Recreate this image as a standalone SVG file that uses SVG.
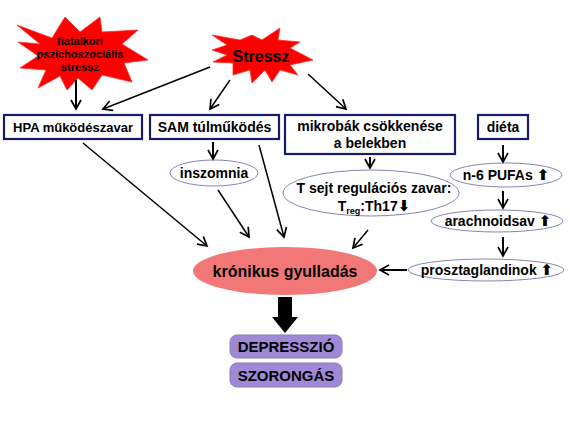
<svg xmlns="http://www.w3.org/2000/svg" width="570" height="427" viewBox="0 0 570 427">
<defs>
<marker id="ah" markerUnits="userSpaceOnUse" markerWidth="13" markerHeight="13" refX="10" refY="6" orient="auto">
<path d="M1,1 L10,6 L1,11" fill="none" stroke="#000" stroke-width="1.7"/>
</marker>
<style>
text{font-family:"Liberation Sans",Arial,sans-serif;font-weight:bold;fill:#000;text-anchor:middle}
.box{fill:#fff;stroke:#1b1b6b;stroke-width:2.2}
.ell{fill:#fff;stroke:#8585b3;stroke-width:1}
.star{fill:#ff0000;stroke:#ff3030;stroke-width:0.8}
.pur{fill:#9f89d6;stroke:#8b74c6;stroke-width:1}
.c{fill:none;stroke:#000;stroke-width:1.5;marker-end:url(#ah)}
.ct{fill:none;stroke:#000;stroke-width:2;marker-end:url(#ah)}
.sym{font-family:"DejaVu Sans",sans-serif;font-size:15px}
</style>
</defs>
<rect width="570" height="427" fill="#fff"/>

<g id="fiatalkori">
<polygon class="star" points="17,25 52,38 65,17 80,32 100,17 102,32 138,30 122,44 148,60 124,63 132,82 102,75 92,90 78,78 67,90 60,76 38,88 46,70 20,68 38,56 18,42 40,44"/>
<text font-size="11" fill="#200" x="80" y="45">fiatalkori</text>
<text font-size="11" x="80" y="58">pszichoszociális</text>
<text font-size="11" x="80" y="71">stressz</text>
</g>

<g id="stressz">
<polygon class="star" points="212,35 240,40 252,35 262,40 280,28 278,40 300,42 290,48 313,60 290,65 298,75 280,70 272,82 265,70 252,83 250,70 233,75 233,63 213,62 227,55 212,50 227,45"/>
<text font-size="16" x="261" y="62">Stressz</text>
</g>

<g id="hpa">
<rect class="box" x="4" y="115" width="138" height="24"/>
<text font-size="13" x="73" y="132">HPA működészavar</text>
</g>

<g id="sam">
<rect class="box" x="150" y="115" width="129" height="24"/>
<text font-size="14" x="214.5" y="132">SAM túlműködés</text>
</g>

<g id="mikrobak">
<rect class="box" x="285" y="115" width="170" height="39"/>
<text font-size="14" x="370" y="131">mikrobák csökkenése</text>
<text font-size="14" x="370" y="148">a belekben</text>
</g>

<g id="dieta">
<rect class="box" x="478" y="115" width="50" height="24"/>
<text font-size="14" x="503" y="132">diéta</text>
</g>

<g id="inszomnia">
<ellipse class="ell" cx="214" cy="173" rx="44" ry="13"/>
<text font-size="14" x="214" y="178">inszomnia</text>
</g>

<g id="tsejt">
<ellipse class="ell" cx="371" cy="193" rx="88" ry="23"/>
<text font-size="14" x="374" y="193">T sejt regulációs zavar:</text>
<text font-size="14" x="374" y="211">T<tspan font-size="9" dy="3">reg</tspan><tspan dy="-3">:Th17</tspan><tspan class="sym">⬇</tspan></text>
</g>

<g id="pufa">
<ellipse class="ell" cx="506" cy="175" rx="56" ry="12"/>
<text font-size="14" x="506" y="180">n-6 PUFAs <tspan class="sym">⬆</tspan></text>
</g>

<g id="arachnoidsav">
<ellipse class="ell" cx="497" cy="221" rx="66" ry="11"/>
<text font-size="14" x="498" y="226">arachnoidsav <tspan class="sym">⬆</tspan></text>
</g>

<g id="prosztaglandinok">
<ellipse class="ell" cx="486" cy="270" rx="78" ry="11"/>
<text font-size="14" x="487" y="275">prosztaglandinok <tspan class="sym">⬆</tspan></text>
</g>

<g id="kronikus">
<ellipse cx="285" cy="271" rx="92" ry="24" fill="#f27878"/>
<text font-size="16" x="285" y="277">krónikus gyulladás</text>
</g>

<g id="depresszio">
<rect class="pur" x="230" y="335" width="112" height="23" rx="7"/>
<text font-size="15" x="286" y="352">DEPRESSZIÓ</text>
</g>

<g id="szorongas">
<rect class="pur" x="230" y="363" width="112" height="24" rx="7"/>
<text font-size="15" x="286" y="381">SZORONGÁS</text>
</g>

<g id="connectors">
<line class="ct" x1="76" y1="80" x2="76" y2="109"/>
<line class="c" x1="210" y1="67" x2="103" y2="109"/>
<line class="c" x1="230" y1="80" x2="210" y2="109"/>
<line class="c" x1="308" y1="74" x2="346" y2="109"/>
<line class="ct" x1="213" y1="142" x2="213" y2="159"/>
<line class="c" x1="83" y1="143" x2="207" y2="246"/>
<line class="c" x1="218" y1="190" x2="249" y2="237"/>
<line class="c" x1="259" y1="145" x2="284" y2="237"/>
<line class="ct" x1="370" y1="157" x2="370" y2="168"/>
<line class="c" x1="368" y1="230" x2="353" y2="248"/>
<line class="ct" x1="503" y1="145" x2="503" y2="162"/>
<line class="ct" x1="503" y1="191" x2="503" y2="208"/>
<line class="ct" x1="503" y1="237" x2="503" y2="256"/>
<line class="ct" x1="407" y1="270" x2="380" y2="270"/>
<polygon points="278,297 292,297 292,317 298,317 285,333 272,317 278,317" fill="#000"/>
</g>
</svg>
